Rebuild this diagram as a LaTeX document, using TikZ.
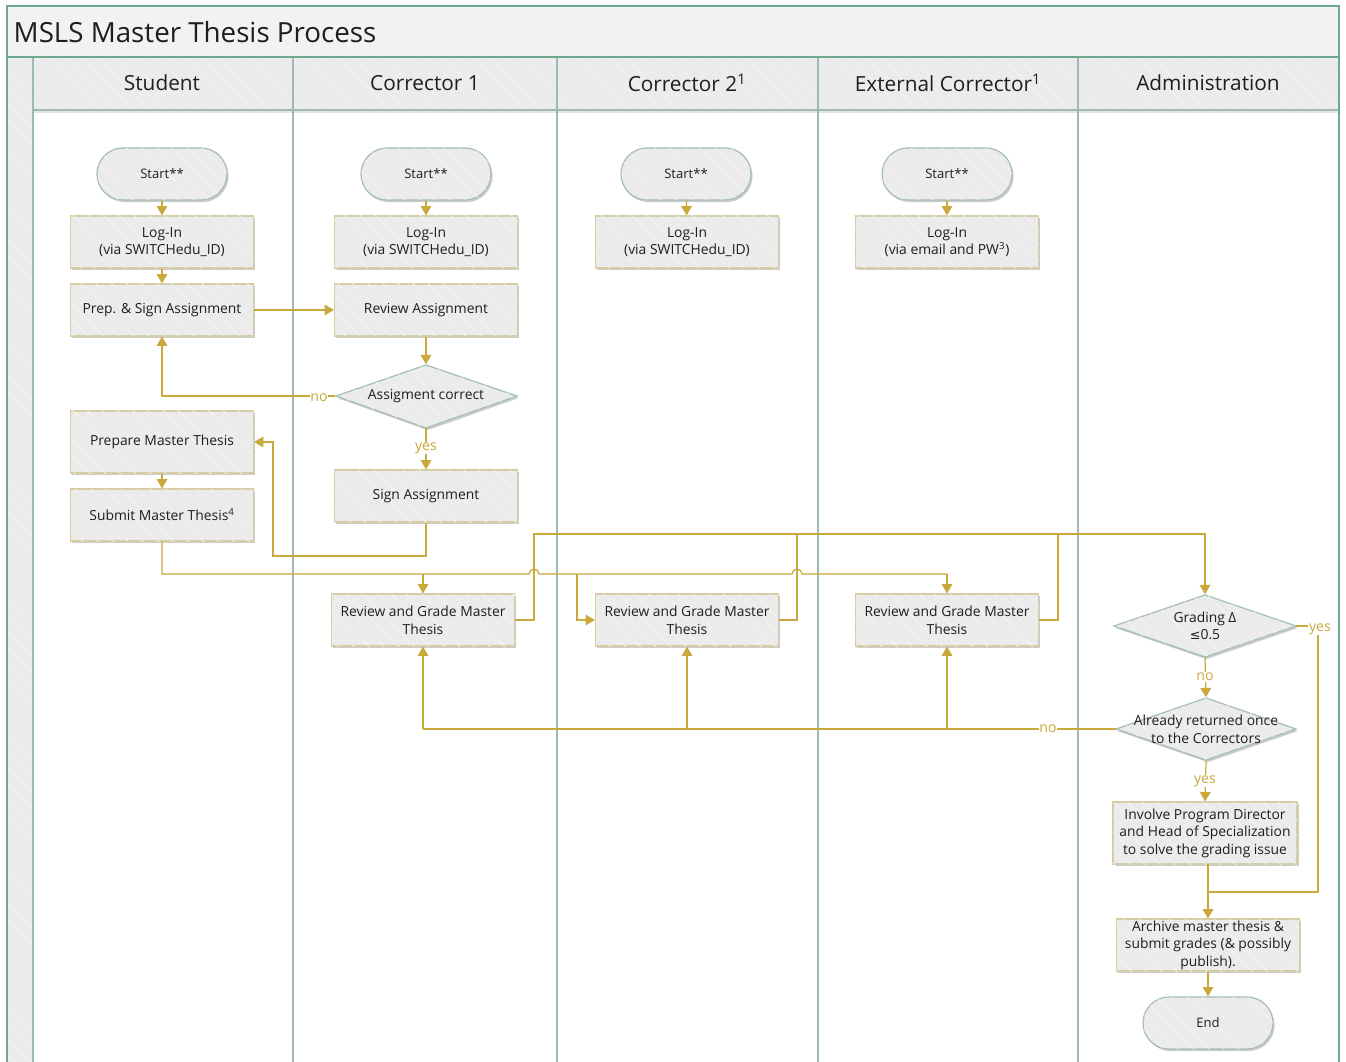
\documentclass[tikz,border=0pt]{standalone}
\usepackage{fontspec}
\setmainfont{Open Sans}
\newfontfamily\dejavu{DejaVu Sans}
\usetikzlibrary{arrows.meta,shadows,patterns.meta,calc}
\definecolor{gold}{HTML}{C9A83C}
\definecolor{lanec}{HTML}{9FBAB2}
\definecolor{framec}{HTML}{6CA98D}
\definecolor{boxfill}{HTML}{EBEBEB}
\definecolor{hatchc}{HTML}{F4F4F4}
\definecolor{titlefill}{HTML}{F2F2F2}
\definecolor{boxedge}{HTML}{D6CDA3}
\definecolor{termedge}{HTML}{A3BEB5}
\definecolor{txt}{HTML}{1E1E1E}
\tikzset{
  hatch/.style={postaction={pattern={Lines[angle=-45,distance=8pt,line width=0.5pt]},pattern color=hatchc}},
  shad/.style={drop shadow={shadow xshift=1.2pt,shadow yshift=-1.6pt,opacity=0.2,fill=black}},
  boxtext/.style={font=\fontsize{10.4}{13.2}\selectfont, text=txt, align=center},
  procbox/.style={rectangle, draw=boxedge, line width=0.9pt, fill=boxfill, shad, hatch,
     minimum width=137.25pt, minimum height=39pt, inner sep=1pt, boxtext},
  termbox/.style={rectangle, rounded corners=19.5pt, draw=termedge, line width=0.9pt, fill=boxfill, shad, hatch,
     minimum width=97.5pt, minimum height=39pt, inner sep=1pt, boxtext, font=\fontsize{9.8}{12}\selectfont},
  decbox/.style={rectangle, minimum width=135.75pt, minimum height=47.25pt, inner sep=0pt, boxtext},
  decshape/.style={draw=termedge, line width=0.9pt, fill=boxfill, shad, hatch},
  line/.style={draw=gold, line width=0.9pt},
  flow/.style={line, -{Triangle[width=8pt,length=7pt]}},
  lbl/.style={text=gold, font=\fontsize{10.6}{12}\selectfont, fill=white, inner sep=0.6pt},
  hdr/.style={font=\fontsize{15.6}{18}\selectfont, text=txt},
}
\begin{document}
\begin{tikzpicture}[x=0.75pt,y=-0.75pt]
\useasboundingbox (0,0) rectangle (1346,1062);
% ---- pool and lanes ----
\fill[white] (7,6) rectangle (1339,1066);
\path[fill=titlefill] (7,6) rectangle (1339,57);
\path[fill=boxfill, hatch] (7,57) rectangle (33,1066);
\path[fill=boxfill, hatch] (33,57) rectangle (1339,110);
\draw[lanec, line width=1.4pt] (33,110) -- (1339,110);
\draw[black!10, line width=1.5pt] (33,112) -- (1339,112);
\foreach \xx in {33,293,557,818,1078}
  \draw[lanec, line width=1.4pt] (\xx,57) -- (\xx,1066);
\draw[framec, line width=1.6pt] (7,57) -- (1339,57);
\draw[framec, line width=2pt] (7,1066) -- (7,6) -- (1339,6) -- (1339,1066);
\node[anchor=west, font=\fontsize{20.8}{24}\selectfont, text=txt] (title) at (9,32) {MSLS Master Thesis Process};
\node[hdr] (hS) at (162,83) {Student};
\node[hdr] (hC1) at (425,83) {Corrector 1};
\node[hdr] (hC2) at (687,83) {Corrector 2\textsuperscript{1}};
\node[hdr] (hE) at (948,83) {External Corrector\textsuperscript{1}};
\node[hdr] (hA) at (1208,83) {Administration};
% ---- nodes ----
\node[termbox] (st1) at (162,174) {Start**};
\node[termbox] (st2) at (426,174) {Start**};
\node[termbox] (st3) at (686,174) {Start**};
\node[termbox] (st4) at (947,174) {Start**};
\node[procbox] (li1) at (162,242) {Log-In\\(via SWITCHedu\_ID)};
\node[procbox] (li2) at (426,242) {Log-In\\(via SWITCHedu\_ID)};
\node[procbox] (li3) at (687,242) {Log-In\\(via SWITCHedu\_ID)};
\node[procbox] (li4) at (947,242) {Log-In\\(via email and PW\textsuperscript{3})};
\node[procbox] (prep) at (162,310) {Prep. \& Sign Assignment};
\node[procbox] (rev) at (426,310) {Review Assignment};
\path[decshape] (336,396) -- (426,365) -- (517,396) -- (426,428) -- cycle;
\node[decbox] (ac) at (426,396) {Assigment correct};
\node[procbox, minimum height=46.5pt] (pmt) at (162,442) {Prepare Master Thesis};
\node[procbox] (smt) at (162,515) {Submit Master Thesis\textsuperscript{4}};
\node[procbox] (sign) at (426,496) {Sign Assignment};
\node[procbox] (rg1) at (423,620) {Review and Grade Master\\Thesis};
\node[procbox] (rg2) at (687,620) {Review and Grade Master\\Thesis};
\node[procbox] (rg3) at (947,620) {Review and Grade Master\\Thesis};
\path[decshape] (1114,626) -- (1205,595) -- (1296,626) -- (1205,657) -- cycle;
\node[decbox] (grad) at (1205,626) {Grading Δ\\{\dejavu\fontsize{9.6}{11}\selectfont ≤}0.5};
\path[decshape] (1116,729) -- (1206,698) -- (1296,729) -- (1206,760) -- cycle;
\node[decbox, minimum width=135pt] (al) at (1206,729) {Already returned once\\to the Correctors};
\node[procbox, minimum width=138pt, minimum height=46.5pt] (inv) at (1205,833) {Involve Program Director\\and Head of Specialization\\to solve the grading issue};
\node[procbox, minimum height=39pt] (arch) at (1208,945) {Archive master thesis \&\\submit grades (\& possibly\\publish).};
\node[termbox] (end) at (1208,1023) {End};
% ---- connectors ----
\draw[flow] (st1) -- (li1);
\draw[flow] (st2) -- (li2);
\draw[flow] (st3) -- (li3);
\draw[flow] (st4) -- (li4);
\draw[flow] (li1) -- (prep);
\draw[flow] (prep) -- (rev);
\draw[flow] (rev) -- (ac.north);
\coordinate (noA) at (162,396);
\draw[flow] (ac.west) -- (noA) -- (prep.south);
\node[lbl] (lno1) at (319,398) {no};
\draw[flow] (ac.south) -- (sign.north);
\node[lbl] (lyes1) at (426,448) {yes};
\coordinate (sA) at (426,556);
\coordinate (sB) at (273,556);
\coordinate (sC) at (273,442);
\draw[flow] (sign.south) -- (sA) -- (sB) -- (sC) -- (pmt.east);
\draw[flow] (pmt) -- (smt);
% submit distribution line with hops
\coordinate (dA) at (162,574);
\coordinate (dB) at (423,574);
\coordinate (dC) at (577,574);
\coordinate (dD) at (947,574);
\coordinate (dE) at (577,620);
\draw[line] (smt.south) -- (dA) -- (529,574) arc (180:360:5) -- (792,574) arc (180:360:5) -- (dD);
\draw[flow] (dB) -- (rg1.north);
\draw[flow] (dC) -- (dE) -- (rg2.west);
\draw[flow] (dD) -- (rg3.north);
% grading collection
\coordinate (j1) at (534,534);
\coordinate (j2) at (797,534);
\coordinate (j3) at (1058,534);
\coordinate (jg) at (1205,534);
\draw[flow] (rg1.east) -| (j1) -- (jg) -- (grad.north);
\draw[line] (rg2.east) -| (j2);
\draw[line] (rg3.east) -| (j3);
% administration
\draw[flow] (grad.south) -- (al.north);
\node[lbl] (lno2) at (1205,677) {no};
\draw[flow] (al.south) -- (inv.north);
\node[lbl] (lyes2) at (1205,781) {yes};
\coordinate (y1) at (1318,626);
\coordinate (y2) at (1318,892);
\coordinate (y3) at (1208,892);
\draw[line] (grad.east) -- (y1) -- (y2) -- (y3);
\node[lbl] (lyes3) at (1320,629) {yes};
\coordinate (ib) at (1208,864);
\draw[flow] (ib) -- (arch.north);
\draw[flow] (arch) -- (end);
\coordinate (r1) at (423,729);
\coordinate (r2) at (687,729);
\coordinate (r3) at (947,729);
\draw[line] (al.west) -- (r1);
\draw[flow] (r1) -- (rg1.south);
\draw[flow] (r2) -- (rg2.south);
\draw[flow] (r3) -- (rg3.south);
\node[lbl] (lno3) at (1048,729) {no};
\end{tikzpicture}
\end{document}
